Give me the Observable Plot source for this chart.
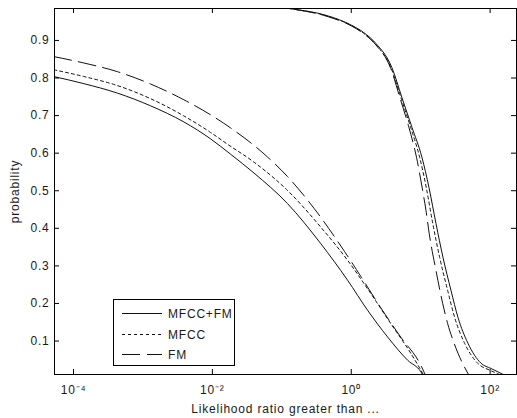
<!DOCTYPE html>
<html><head><meta charset="utf-8">
<script src="https://cdn.jsdelivr.net/npm/d3@7"></script>
<script src="https://cdn.jsdelivr.net/npm/@observablehq/plot@0.6"></script>
<style>
body{margin:0;background:#fff;}
#chart{position:relative;width:517px;height:418px;}
</style></head><body><div id="chart"></div>
<script>
// Series names (legend order)
const seriesNames = ["MFCC+FM", "MFCC", "FM"];
const seriesDash = [null, "3,3", "18,7"];

// Left family (log10 of likelihood ratio, probability)
const left_mfccfm_exp = [-4.284, -3.851, -3.370, -2.890, -2.410, -2.025, -1.736, -1.400, -0.919, -0.438, -0.053, 0.235, 0.523, 0.812, 1.004, 1.06];
const left_mfccfm_p   = [0.804, 0.785, 0.760, 0.726, 0.683, 0.638, 0.597, 0.547, 0.466, 0.359, 0.262, 0.182, 0.111, 0.049, 0.018, 0.0];
const left_mfcc_exp = [-4.284, -3.851, -3.370, -2.890, -2.410, -2.025, -1.784, -1.400, -0.919, -0.438, -0.053, 0.283, 0.571, 0.859, 1.004, 1.07];
const left_mfcc_p   = [0.822, 0.804, 0.780, 0.745, 0.699, 0.655, 0.624, 0.576, 0.501, 0.403, 0.315, 0.226, 0.146, 0.067, 0.022, 0.0];
const left_fm_exp = [-4.284, -3.851, -3.370, -2.890, -2.410, -2.025, -1.736, -1.207, -0.919, -0.535, -0.150, 0.138, 0.427, 0.715, 1.004, 1.09];
const left_fm_p   = [0.857, 0.840, 0.817, 0.784, 0.742, 0.702, 0.667, 0.590, 0.538, 0.453, 0.353, 0.272, 0.188, 0.110, 0.035, 0.0];

// Right family
const right_mfccfm_exp = [-1.5, -0.857, -0.366, 0.009, 0.18, 0.355, 0.585, 0.730, 0.874, 1.018, 1.119, 1.220, 1.321, 1.436, 1.537, 1.681, 1.869, 2.013, 2.157, 2.30];
const right_mfccfm_p   = [0.998, 0.984, 0.967, 0.940, 0.921, 0.892, 0.828, 0.748, 0.669, 0.589, 0.509, 0.413, 0.323, 0.235, 0.163, 0.094, 0.041, 0.027, 0.014, 0.0];
const right_mfcc_exp = [-1.5, -0.857, -0.366, 0.009, 0.18, 0.355, 0.575, 0.715, 0.855, 0.985, 1.080, 1.174, 1.273, 1.388, 1.489, 1.633, 1.820, 2.000, 2.110, 2.25];
const right_mfcc_p   = [0.998, 0.984, 0.966, 0.939, 0.919, 0.889, 0.826, 0.748, 0.669, 0.589, 0.509, 0.413, 0.323, 0.235, 0.163, 0.094, 0.041, 0.022, 0.013, 0.0];
const right_fm_exp = [-1.5, -0.857, -0.366, 0.009, 0.18, 0.355, 0.570, 0.700, 0.830, 0.940, 1.028, 1.076, 1.123, 1.220, 1.317, 1.389, 1.484, 1.605, 1.677, 1.72];
const right_fm_p   = [0.998, 0.984, 0.965, 0.938, 0.918, 0.888, 0.825, 0.748, 0.669, 0.589, 0.501, 0.448, 0.386, 0.288, 0.200, 0.146, 0.093, 0.040, 0.015, 0.0];

// Axis ticks
const xTicks = [1e-4, 1e-2, 1, 1e2];
const xTickLabels = ["10\u207B\u2074", "10\u207B\u00B2", "10\u2070", "10\u00B2"];
const yTicks = [0.1, 0.2, 0.3, 0.4, 0.5, 0.6, 0.7, 0.8, 0.9];
const yTickLabels = ["0.1", "0.2", "0.3", "0.4", "0.5", "0.6", "0.7", "0.8", "0.9"];

function toRows(exps, ps, s) { return exps.map((e, i) => ({x: Math.pow(10, e), y: ps[i], s})); }
const curves = [
  [toRows(left_mfccfm_exp, left_mfccfm_p, 0), toRows(right_mfccfm_exp, right_mfccfm_p, 0)],
  [toRows(left_mfcc_exp, left_mfcc_p, 1), toRows(right_mfcc_exp, right_mfcc_p, 1)],
  [toRows(left_fm_exp, left_fm_p, 2), toRows(right_fm_exp, right_fm_p, 2)]
];

const W = 517, H = 418, mL = 54, mR = 1, mT = 8, mB = 44;
const fw = W - mL - mR, fh = H - mT - mB;
const FONT = "'Liberation Sans', Arial, Helvetica, sans-serif";
const TXT = "#1a1a1a";

const lineMarks = [];
curves.forEach((pair, s) => pair.forEach(rows => {
  lineMarks.push(Plot.line(rows, {x: "x", y: "y", stroke: "#111", strokeWidth: 1, strokeDasharray: seriesDash[s] || undefined, curve: "monotone-x", clip: true}));
}));

const chart = Plot.plot({
  width: W, height: H,
  marginLeft: mL, marginRight: mR, marginTop: mT, marginBottom: mB,
  style: {fontFamily: FONT, fontSize: "12px", letterSpacing: "0.8px", color: TXT, background: "#fff", overflow: "visible"},
  x: {type: "log", domain: [Math.pow(10, -4.274), Math.pow(10, 2.38)]},
  y: {domain: [0.011, 0.985]},
  marks: [
    ...lineMarks,
    Plot.tickY(yTicks, {y: d => d, stroke: "#000", insetRight: fw - 5}),
    Plot.tickY(yTicks, {y: d => d, stroke: "#000", insetLeft: fw - 5}),
    Plot.tickX(xTicks, {x: d => d, stroke: "#000", insetTop: fh - 5}),
    Plot.tickX(xTicks, {x: d => d, stroke: "#000", insetBottom: fh - 5}),
    Plot.frame({stroke: "#000"}),
    Plot.axisX({ticks: xTicks, tickSize: 0, tickPadding: 11, tickFormat: d => xTickLabels[xTicks.findIndex(t => Math.abs(Math.log10(t) - Math.log10(d)) < 1e-6)], label: "Likelihood ratio greater than ...", labelAnchor: "center", labelArrow: "none", labelOffset: 38}),
    Plot.axisY({ticks: yTicks, tickSize: 0, tickPadding: 5, tickFormat: d => yTickLabels[yTicks.findIndex(t => Math.abs(t - d) < 1e-9)], label: "probability", labelAnchor: "center", labelArrow: "none", labelOffset: 44})
  ]
});

document.getElementById("chart").appendChild(chart);

// Legend
const svg = d3.select(chart);
const lg = svg.append("g").attr("class", "legend");
lg.append("rect").attr("x", 113.5).attr("y", 299.5).attr("width", 121).attr("height", 66)
  .attr("fill", "#fff").attr("stroke", "#000");
const rowY = [313.5, 334.5, 354.5];
seriesNames.forEach((name, i) => {
  lg.append("line").attr("x1", 122).attr("x2", 162).attr("y1", rowY[i]).attr("y2", rowY[i])
    .attr("stroke", "#111").attr("stroke-width", 1).attr("stroke-dasharray", seriesDash[i]);
  lg.append("text").attr("x", 168).attr("y", rowY[i]).attr("dy", "0.36em")
    .attr("text-anchor", "start")
    .attr("font-family", FONT).attr("font-size", 12).attr("letter-spacing", "0.8px").attr("fill", TXT).text(name);
});
</script></body></html>
